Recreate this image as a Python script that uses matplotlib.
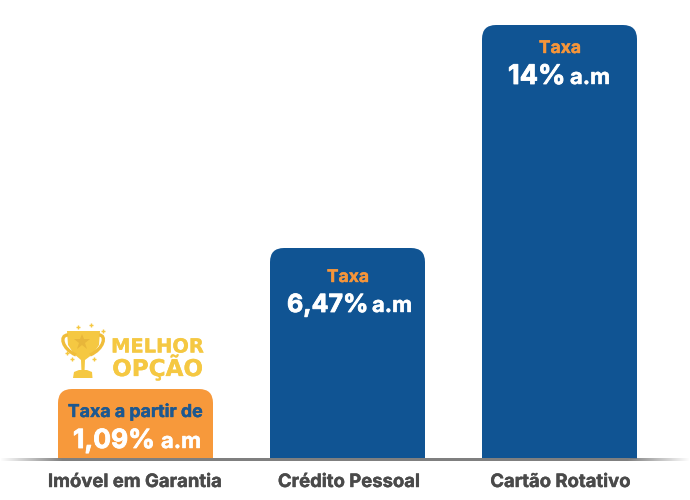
import numpy as np
import matplotlib.pyplot as plt
import matplotlib.patheffects as pe
from matplotlib.patches import FancyBboxPatch, PathPatch
from matplotlib.path import Path

plt.rcParams['font.family'] = ['Inter', 'Lato', 'DejaVu Sans']

categories = ['Imóvel em Garantia', 'Crédito Pessoal', 'Cartão Rotativo']
bar_heights = [70, 211, 434]
top_labels = ['Taxa a partir de', 'Taxa', 'Taxa']
rate_labels = ['1,09%', '6,47%', '14%']
bar_colors = ['#f7993b', '#105493', '#105493']
top_colors = ['#1d5890', '#f5953a', '#f5953a']


def label(x, y, s, size, color, ha='left', stroke=0.3, **kw):
    t = ov.text(x, y, s, ha=ha, va='baseline', fontsize=size, fontweight='bold', color=color, **kw)
    t.set_path_effects([pe.withStroke(linewidth=stroke, foreground=color)])
    return t


fig = plt.figure(figsize=(6.9, 5), dpi=100)
ax = fig.add_axes([0, 0, 1, 1])
ax.set_xlim(-135.5 / 212, (690 - 135.5) / 212)
ax.set_ylim(-41, 459)
ax.axis('off')

# cantos arredondados so em cima: barra recortada por um retangulo maior
bars = ax.bar(range(3), bar_heights, width=155 / 212, color=bar_colors, linewidth=0)
for b in bars:
    r = FancyBboxPatch((b.get_x(), -40), b.get_width(), b.get_height() + 40,
                       boxstyle='round,pad=0,rounding_size=%f' % (14 / 212),
                       mutation_aspect=212, transform=ax.transData,
                       facecolor='none', edgecolor='none')
    ax.add_patch(r)
    b.set_clip_path(r)

# camada em pixels para textos e trofeu
ov = fig.add_axes([0, 0, 1, 1])
ov.axis('off')
ov.patch.set_alpha(0)

# linha de base com as pontas sumindo
grad = np.minimum(np.linspace(0, 1, 690) / 0.09, 1) * np.minimum(np.linspace(1, 0, 690) / 0.09, 1)
img = np.zeros((1, 690, 4))
img[..., :3] = 0.5
img[..., 3] = grad
ov.imshow(img, extent=(0, 690, 460.6, 458.4), aspect='auto', zorder=3, interpolation='bilinear')
ov.set_xlim(0, 690)
ov.set_ylim(500, 0)

# rotulos
for x, c in zip([135, 349, 560.5], categories):
    label(x, 487, c, 13.3, '#4a4a4a', ha='center')

label(135.5, 417, top_labels[0], 12.8, top_colors[0], ha='center')
label(348, 282, top_labels[1], 12.6, top_colors[1], ha='center')
label(560, 53, top_labels[2], 12.6, top_colors[2], ha='center')

for xr, xa, yb, lab, sz in zip([73, 287, 508], [161, 372, 570], [448, 312, 84], rate_labels, [19, 18, 19.5]):
    label(xr, yb, lab, sz, 'white', stroke=0.6)
    label(xa, yb, 'a.m', 15.8, 'white')

gold = '#f5c842'
label(157.5, 352.5, 'MELHOR', 14, gold, ha='center', stroke=0.2, family='DejaVu Sans')
label(157.5, 376, 'OPÇÃO', 16.6, gold, ha='center', stroke=0.2, family='DejaVu Sans')

# trofeu
cup = Path([(67, 331), (100, 331), (99, 345), (93, 354), (85, 360), (84.5, 372), (81.5, 372), (81, 360),
            (74, 354), (68, 345), (67, 331)])
ov.add_patch(PathPatch(cup, facecolor=gold, edgecolor='none'))
base = Path([(73, 378), (74, 372), (79, 370), (87, 370), (92, 372), (92.5, 378), (73, 378)])
ov.add_patch(PathPatch(base, facecolor=gold, edgecolor='none'))
for pts in ([(68, 335), (59, 335), (62, 349), (76, 355)], [(99, 335), (107, 335), (104, 349), (90, 355)]):
    ov.add_patch(PathPatch(Path(pts, [Path.MOVETO, Path.CURVE4, Path.CURVE4, Path.CURVE4]),
                           facecolor='none', edgecolor='#f0bd3a', linewidth=2.4))
ov.plot([82], [342], marker='*', markersize=12, color='#e8b63a', markeredgewidth=0)
ov.plot([78, 91, 103, 72, 94, 67], [327, 325, 331, 359, 359, 353], linestyle='none', marker='+',
        markersize=3.5, color=gold, markeredgewidth=1)

fig.savefig('out.png', dpi=100)
